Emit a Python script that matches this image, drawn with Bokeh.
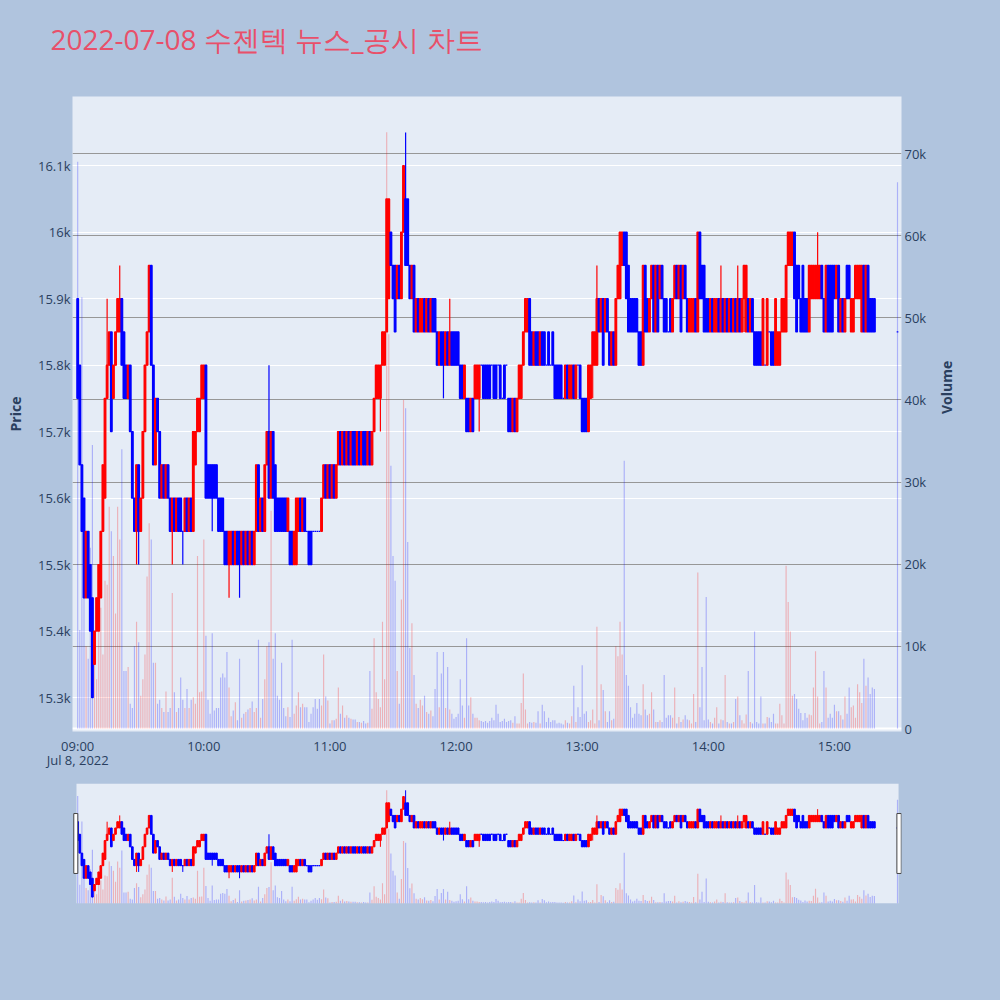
import numpy as np
import pandas as pd
from math import pi
from bokeh.plotting import figure
from bokeh.models import (ColumnDataSource, Range1d, LinearAxis, FixedTicker,
                          Grid, Span, BoxAnnotation, Title)
from bokeh.layouts import column
from bokeh.embed import file_html
from bokeh.resources import INLINE

# minutes after 09:00; the last one is the 15:30 closing auction
minutes = list(range(380)) + [390]

opens = [
    15900, 15800, 15650, 15600, 15450, 15550, 15500, 15450, 15350, 15400,
    15400, 15450, 15550, 15600, 15750, 15800, 15850, 15750, 15800, 15850,
    15850, 15900, 15850, 15800, 15750, 15800, 15700, 15600, 15550, 15650,
    15550, 15600, 15700, 15800, 15850, 15950, 15800, 15650, 15750, 15700,
    15600, 15650, 15600, 15650, 15600, 15550, 15600, 15550, 15600, 15600,
    15550, 15550, 15600, 15550, 15600, 15550, 15650, 15700, 15700, 15750,
    15750, 15800, 15650, 15650, 15650, 15650, 15650, 15600, 15600, 15600,
    15550, 15550, 15500, 15500, 15550, 15500, 15550, 15550, 15500, 15550,
    15500, 15550, 15500, 15550, 15500, 15550, 15650, 15550, 15600, 15550,
    15650, 15700, 15600, 15700, 15650, 15600, 15600, 15600, 15600, 15600,
    15550, 15550, 15550, 15500, 15500, 15550, 15600, 15550, 15600, 15550,
    15550, 15550, 15550, 15550, 15550, 15550, 15550, 15600, 15650, 15600,
    15650, 15600, 15650, 15600, 15650, 15700, 15650, 15700, 15650, 15700,
    15650, 15700, 15700, 15650, 15700, 15650, 15700, 15700, 15650, 15700,
    15650, 15700, 15750, 15750, 15750, 15800, 15800, 15850, 15900, 16000,
    15950, 15950, 15900, 15950, 15900, 16000, 16050, 16050, 15950, 15900,
    15950, 15850, 15900, 15850, 15850, 15900, 15850, 15900, 15850, 15900,
    15900, 15850, 15800, 15850, 15850, 15800, 15850, 15800, 15850, 15850,
    15850, 15850, 15800, 15800, 15750, 15750, 15750, 15700, 15750, 15750,
    15750, 15750, 15800, 15800, 15800, 15800, 15800, 15800, 15800, 15800,
    15800, 15800, 15750, 15800, 15800, 15750, 15750, 15700, 15750, 15700,
    15750, 15750, 15800, 15850, 15850, 15900, 15850, 15800, 15850, 15850,
    15800, 15850, 15850, 15800, 15850, 15800, 15850, 15800, 15800, 15800,
    15800, 15750, 15750, 15800, 15750, 15750, 15800, 15750, 15800, 15800,
    15750, 15750, 15750, 15700, 15750, 15800, 15800, 15800, 15900, 15850,
    15900, 15850, 15900, 15850, 15800, 15850, 15800, 15900, 15900, 15950,
    16000, 16000, 15950, 15900, 15900, 15900, 15900, 15850, 15850, 15800,
    15950, 15900, 15850, 15900, 15950, 15850, 15950, 15900, 15950, 15900,
    15900, 15850, 15900, 15850, 15900, 15950, 15900, 15950, 15900, 15950,
    15900, 15850, 15850, 15850, 15900, 15850, 16000, 15950, 15950, 15900,
    15900, 15850, 15900, 15850, 15850, 15900, 15850, 15900, 15850, 15900,
    15850, 15900, 15850, 15900, 15850, 15900, 15850, 15900, 15850, 15900,
    15850, 15900, 15850, 15850, 15850, 15850, 15800, 15800, 15800, 15850,
    15850, 15850, 15800, 15800, 15800, 15850, 15850, 15850, 15950, 15950,
    15950, 16000, 15950, 15950, 15900, 15950, 15900, 15900, 15850, 15900,
    15900, 15900, 15900, 15900, 15950, 15900, 15850, 15950, 15950, 15950,
    15950, 15900, 15950, 15850, 15900, 15850, 15950, 15950, 15850, 15850,
    15900, 15900, 15900, 15850, 15950, 15850, 15950, 15900, 15900, 15900,
    15850,
]

closes = [
    15750, 15650, 15550, 15450, 15550, 15450, 15400, 15300, 15400, 15450,
    15500, 15550, 15650, 15750, 15800, 15850, 15700, 15800, 15850, 15900,
    15900, 15800, 15750, 15750, 15800, 15700, 15600, 15550, 15650, 15550,
    15600, 15700, 15800, 15850, 15950, 15800, 15650, 15750, 15700, 15600,
    15650, 15600, 15650, 15600, 15550, 15600, 15550, 15600, 15550, 15550,
    15550, 15600, 15550, 15600, 15550, 15700, 15700, 15750, 15750, 15800,
    15800, 15600, 15600, 15600, 15600, 15600, 15600, 15550, 15550, 15550,
    15500, 15500, 15550, 15550, 15500, 15550, 15500, 15500, 15550, 15500,
    15550, 15500, 15550, 15500, 15550, 15650, 15550, 15600, 15550, 15650,
    15700, 15600, 15700, 15600, 15550, 15550, 15550, 15550, 15550, 15550,
    15600, 15500, 15500, 15550, 15600, 15600, 15550, 15600, 15550, 15550,
    15500, 15500, 15550, 15550, 15550, 15550, 15600, 15650, 15600, 15650,
    15600, 15650, 15600, 15650, 15700, 15650, 15700, 15650, 15700, 15650,
    15700, 15650, 15650, 15700, 15650, 15700, 15650, 15650, 15700, 15650,
    15700, 15750, 15800, 15800, 15800, 15850, 15850, 16050, 16050, 15950,
    15900, 15850, 15950, 15900, 16000, 16100, 15950, 15950, 15900, 15950,
    15850, 15900, 15850, 15900, 15900, 15850, 15900, 15850, 15900, 15850,
    15850, 15800, 15850, 15800, 15800, 15850, 15800, 15850, 15800, 15800,
    15800, 15800, 15750, 15750, 15800, 15700, 15700, 15750, 15700, 15800,
    15800, 15800, 15800, 15750, 15750, 15750, 15750, 15800, 15750, 15750,
    15800, 15750, 15750, 15750, 15800, 15700, 15700, 15750, 15700, 15750,
    15800, 15800, 15850, 15900, 15900, 15800, 15800, 15850, 15800, 15800,
    15850, 15800, 15800, 15800, 15800, 15800, 15800, 15750, 15750, 15750,
    15750, 15750, 15800, 15750, 15800, 15800, 15750, 15800, 15800, 15750,
    15700, 15700, 15700, 15800, 15800, 15850, 15850, 15900, 15850, 15900,
    15800, 15900, 15850, 15800, 15850, 15800, 15900, 15950, 16000, 16000,
    15950, 15900, 15850, 15850, 15850, 15850, 15850, 15800, 15800, 15950,
    15850, 15850, 15900, 15950, 15850, 15950, 15850, 15950, 15900, 15850,
    15850, 15850, 15850, 15900, 15950, 15900, 15950, 15850, 15950, 15900,
    15850, 15900, 15900, 15900, 15850, 16000, 15900, 15900, 15850, 15850,
    15850, 15900, 15850, 15900, 15900, 15850, 15900, 15850, 15900, 15850,
    15900, 15850, 15900, 15850, 15900, 15850, 15900, 15950, 15950, 15850,
    15900, 15850, 15800, 15800, 15800, 15800, 15900, 15800, 15900, 15850,
    15800, 15800, 15900, 15850, 15850, 15900, 15900, 15950, 16000, 16000,
    16000, 15900, 15850, 15900, 15850, 15850, 15850, 15850, 15950, 15950,
    15950, 15950, 15950, 15950, 15900, 15850, 15950, 15850, 15850, 15850,
    15900, 15950, 15850, 15900, 15850, 15900, 15900, 15900, 15900, 15900,
    15950, 15950, 15950, 15950, 15850, 15950, 15850, 15850, 15850, 15850,
    15850,
]

# wicks that reach beyond the candle body
wick_highs = {14: 15900, 20: 15950, 91: 15800, 156: 16150, 177: 15900,
              247: 15950, 306: 15950, 314: 15950, 352: 16000}
wick_lows = {7: 15300, 28: 15500, 29: 15500, 45: 15500, 50: 15500, 64: 15550,
             72: 15450, 77: 15450, 144: 15700, 174: 15750, 191: 15700,
             245: 15750, 317: 15850}

volumes = [
    69000, 12000, 52500, 17000, 10000, 8500, 22000, 34500, 8000, 6000,
    18000, 14700, 9000, 18000, 17500, 27000, 24000, 21000, 14000, 27000,
    23000, 34000, 7000, 7000, 7500, 3000, 2500, 10000, 13000, 10500,
    4000, 6000, 9000, 18500, 25000, 23000, 8000, 8000, 3000, 3500,
    2500, 2000, 4500, 2000, 2500, 16500, 4400, 2000, 2500, 6200,
    3500, 2500, 4800, 2500, 3500, 3800, 3000, 21000, 4400, 4500,
    23000, 11300, 3500, 1800, 11600, 2200, 2500, 2500, 6200, 6700,
    6200, 9300, 5000, 1500, 2200, 3200, 1000, 8500, 1300, 1800,
    2000, 2300, 2500, 3300, 2000, 2500, 10800, 1300, 3600, 6000,
    10000, 10500, 26500, 8500, 11600, 4000, 3500, 8000, 2500, 1500,
    2600, 1400, 10800, 1800, 2800, 4400, 2600, 3000, 2600, 2600,
    800, 1800, 2600, 3600, 2400, 3600, 2800, 9000, 3900, 3400,
    600, 1000, 1000, 1200, 5000, 1800, 2800, 1300, 1600, 1300,
    1200, 1100, 1100, 800, 800, 700, 900, 600, 700, 7000,
    2400, 11000, 4400, 3600, 2600, 13000, 6000, 72600, 48000, 32000,
    21000, 18000, 7000, 3000, 15700, 40000, 39000, 22700, 9800, 12800,
    6500, 3000, 2500, 3500, 2800, 4000, 2000, 1800, 2200, 1500,
    4800, 9300, 2600, 6700, 9300, 2500, 7500, 2300, 1800, 1200,
    1400, 1800, 6000, 2800, 1300, 11000, 2800, 3800, 1800, 1300,
    1300, 1000, 900, 800, 900, 700, 900, 1300, 1000, 2900,
    1800, 800, 900, 1200, 800, 900, 1000, 700, 1500, 600,
    600, 3100, 6700, 2300, 600, 800, 700, 800, 700, 2100,
    600, 2900, 2100, 800, 1300, 800, 1000, 1000, 600, 700,
    600, 500, 1000, 700, 600, 1500, 5200, 800, 2600, 1400,
    7700, 1800, 2100, 800, 1000, 2300, 600, 12400, 1000, 5400,
    4700, 2100, 800, 2100, 1000, 1200, 10000, 8800, 13000, 9000,
    32600, 6500, 5200, 2600, 1300, 1800, 3100, 1800, 1600, 5400,
    2300, 1600, 1800, 4400, 2300, 800, 800, 1000, 800, 6500,
    1300, 1600, 1600, 1300, 5000, 600, 1400, 800, 1100, 1600,
    1100, 1000, 600, 4200, 800, 19000, 2600, 7500, 1000, 16000,
    1100, 800, 600, 1300, 2600, 600, 1100, 1000, 6500, 800,
    600, 600, 800, 3600, 3900, 1600, 1000, 600, 1700, 7000,
    800, 600, 11800, 800, 600, 3900, 600, 600, 1400, 1300,
    800, 1800, 600, 600, 3000, 1600, 600, 19800, 15400, 11800,
    4000, 4200, 3600, 2400, 1900, 1000, 1900, 1300, 1700, 1600,
    5000, 9400, 3900, 600, 800, 7000, 5000, 1300, 1800, 1300,
    2900, 2100, 2100, 1600, 1100, 3900, 1800, 5000, 2600, 2800,
    1300, 5400, 4400, 3100, 8500, 5200, 6200, 4200, 5000, 4800,
    66500,
]

hour_ticks = [0, 60, 120, 180, 240, 300, 360]
hour_labels = ["09:00\nJul 8, 2022", "10:00", "11:00", "12:00", "13:00", "14:00", "15:00"]
price_ticks = [15300, 15400, 15500, 15600, 15700, 15800, 15900, 16000, 16100]
price_labels = ["15.3k", "15.4k", "15.5k", "15.6k", "15.7k", "15.8k", "15.9k", "16k", "16.1k"]
volume_ticks = [0, 10000, 20000, 30000, 40000, 50000, 60000, 70000]
volume_labels = ["0", "10k", "20k", "30k", "40k", "50k", "60k", "70k"]

PAGE_BG = "#b0c4de"
PLOT_BG = "#e5ecf6"
FONT_COLOR = "#2a3f5f"

df = pd.DataFrame({"t": minutes, "open": opens, "close": closes, "volume": volumes})
df["high"] = df[["open", "close"]].max(axis=1)
df["low"] = df[["open", "close"]].min(axis=1)
for m, h in wick_highs.items():
    df.loc[df.t == m, "high"] = h
for m, lo in wick_lows.items():
    df.loc[df.t == m, "low"] = lo
df["top"] = df[["open", "close"]].max(axis=1)
df["bottom"] = df[["open", "close"]].min(axis=1)
df["color"] = np.where(df.close > df.open, "#ff0000", "#0000ff")
src = ColumnDataSource(df)

x_min, x_max = -2.47, 391.9
p_min, p_max = 15249, 16204
v_min, v_max = -365, 76940


def draw_series(fig, lw):
    fig.vbar(x="t", top="volume", bottom=0, width=0.55, y_range_name="volume",
             fill_color="color", fill_alpha=0.25, line_color=None, source=src)
    fig.segment(x0="t", y0="low", x1="t", y1="high", line_color="color",
                line_width=lw, source=src)
    fig.vbar(x="t", top="top", bottom="bottom", width=0.8, fill_color="color",
             line_color="color", line_width=lw, source=src)


# main chart
p = figure(frame_width=829, frame_height=635,
           x_range=Range1d(x_min, x_max), y_range=Range1d(p_min, p_max),
           min_border_left=72, min_border_right=99, min_border_top=96,
           min_border_bottom=37, output_backend="svg", toolbar_location=None)
p.extra_y_ranges = {"volume": Range1d(v_min, v_max)}
p.background_fill_color = PLOT_BG
p.border_fill_color = PAGE_BG
p.outline_line_color = None

# blank spacer between the title and the plot area
p.add_layout(Title(text=" ", text_font_size="20px", standoff=0), "above")

p.title.text = "2022-07-08 수젠텍 뉴스_공시 차트"
p.title.text_font = "Open Sans"
p.title.text_font_size = "28px"
p.title.text_font_style = "normal"
p.title.text_color = "#e8506a"
p.title.align = "left"
p.title.offset = -22
p.title.standoff = 30

p.xgrid.grid_line_color = None
p.ygrid.ticker = FixedTicker(ticks=price_ticks)
p.ygrid.grid_line_color = "white"
p.ygrid.grid_line_width = 1

vgrid = Grid(dimension=1, y_range_name="volume", ticker=FixedTicker(ticks=volume_ticks[1:]),
             grid_line_color="#979797", grid_line_width=1.2)
p.add_layout(vgrid)
p.add_layout(Span(location=0, dimension="width", y_range_name="volume",
                  line_color="white", line_width=2, level="underlay"))

vaxis = LinearAxis(y_range_name="volume", ticker=FixedTicker(ticks=volume_ticks),
                   major_label_overrides=dict(zip(volume_ticks, volume_labels)),
                   axis_label="Volume")
p.add_layout(vaxis, "right")
vaxis.axis_label_orientation = pi / 2

p.xaxis.ticker = FixedTicker(ticks=hour_ticks)
p.xaxis.major_label_overrides = dict(zip(hour_ticks, hour_labels))
p.yaxis[0].ticker = FixedTicker(ticks=price_ticks)
p.yaxis[0].major_label_overrides = dict(zip(price_ticks, price_labels))
p.yaxis[0].axis_label = "Price"

for ax in p.axis:
    ax.axis_line_color = None
    ax.major_tick_line_color = None
    ax.minor_tick_line_color = None
    ax.major_tick_out = 0
    ax.major_tick_in = 0
    ax.minor_tick_out = 0
    ax.major_label_text_color = FONT_COLOR
    ax.major_label_text_font = "Open Sans"
    ax.major_label_text_font_size = "13px"
    ax.major_label_standoff = 3
    ax.axis_label_text_color = FONT_COLOR
    ax.axis_label_text_font = "Open Sans"
    ax.axis_label_text_font_size = "14px"
    ax.axis_label_text_font_style = "bold"
p.xaxis.major_label_standoff = 5
p.xaxis.major_label_text_line_height = 0.8
p.yaxis[0].major_label_standoff = 2
p.yaxis[0].axis_label_standoff = 10
vaxis.axis_label_standoff = 17

draw_series(p, 1.2)

# range slider look-alike
s = figure(frame_width=829, frame_height=120,
           x_range=Range1d(x_min, x_max), y_range=Range1d(p_min, p_max),
           min_border_left=72, min_border_right=99, min_border_top=12,
           min_border_bottom=92, x_axis_type=None, y_axis_type=None,
           output_backend="svg", toolbar_location=None)
s.extra_y_ranges = {"volume": Range1d(0, v_max)}
s.background_fill_color = PAGE_BG
s.border_fill_color = PAGE_BG
s.outline_line_color = None
s.grid.grid_line_color = None
s.add_layout(BoxAnnotation(left=-0.57, right=390.5, fill_color=PLOT_BG, fill_alpha=1,
                           line_color=None, level="underlay"))
draw_series(s, 1.0)
s.quad(left=[-1.86, 389.7], right=[0.05, 391.8], bottom=15488, top=15965,
       fill_color="white", line_color="#444444", line_width=1)

layout = column(p, s)
html = file_html(layout, INLINE, title="2022-07-08 수젠텍 뉴스_공시 차트")
html = html.replace("</head>", "<style>html,body{background:#b0c4de;}</style></head>")
open("out.html", "w").write(html)
